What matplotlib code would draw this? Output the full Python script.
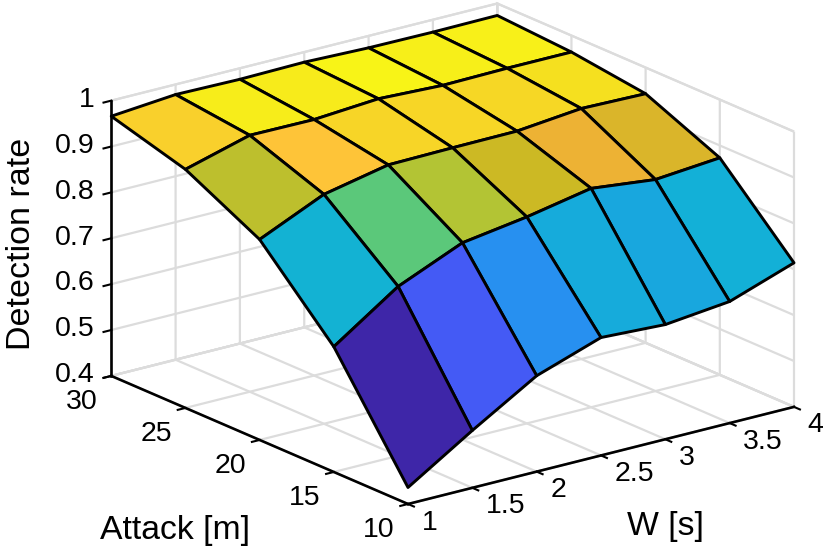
import numpy as np
import matplotlib
matplotlib.use('Agg')
import matplotlib.pyplot as plt
from matplotlib.colors import LinearSegmentedColormap
from mpl_toolkits.mplot3d import proj3d

plt.rcParams['font.family'] = ['Liberation Sans', 'DejaVu Sans']

w_values = [1, 1.5, 2, 2.5, 3, 3.5, 4]
attack_values = [10, 15, 20, 25, 30]
detection_10 = [0.436, 0.525, 0.609, 0.657, 0.650, 0.665, 0.714]
detection_15 = [0.673, 0.769, 0.829, 0.850, 0.877, 0.861, 0.873]
detection_20 = [0.837, 0.900, 0.929, 0.931, 0.932, 0.946, 0.943]
detection_25 = [0.920, 0.959, 0.958, 0.968, 0.962, 0.964, 0.964]
detection_30 = [0.966, 0.978, 0.976, 0.978, 0.974, 0.973, 0.974]
z_ticks = [0.4, 0.5, 0.6, 0.7, 0.8, 0.9, 1]
z_labels = ['0.4', '0.5', '0.6', '0.7', '0.8', '0.9', '1']
w_labels = ['1', '1.5', '2', '2.5', '3', '3.5', '4']
attack_labels = ['10', '15', '20', '25', '30']

# matlab parula, coarse
parula = LinearSegmentedColormap.from_list('parula', [
    (0.0, (0.2422, 0.1504, 0.6603)), (0.143, (0.2810, 0.3228, 0.9579)),
    (0.286, (0.1786, 0.5289, 0.9682)), (0.429, (0.0689, 0.6948, 0.8394)),
    (0.571, (0.2161, 0.7843, 0.5923)), (0.714, (0.6720, 0.7793, 0.2227)),
    (0.764, (0.80, 0.725, 0.14)), (0.81, (0.92, 0.69, 0.20)),
    (0.857, (0.9970, 0.7659, 0.2199)), (0.93, (0.96, 0.86, 0.13)),
    (1.0, (0.9769, 0.9839, 0.0805))])

W, A = np.meshgrid(w_values, attack_values)
Z = np.array([detection_10, detection_15, detection_20, detection_25, detection_30])
colors = parula((Z - Z.min()) / (Z.max() - Z.min()))

fig = plt.figure(figsize=(8.32, 5.48), dpi=100)
ax = fig.add_subplot(projection='3d', proj_type='ortho')
ax.view_init(elev=19.24, azim=-127.36)
ax.set_box_aspect((485.2, 488.6, 291.3))

ax.plot_surface(W, A, Z, facecolors=colors, rstride=1, cstride=1, shade=False,
                edgecolor='black', linewidth=2.1, antialiased=True)

ax.set_xlim(1, 4, view_margin=0)
ax.set_ylim(10, 30, view_margin=0)
ax.set_zlim(0.4, 1, view_margin=0)
ax.set_xticks(w_values)
ax.set_xticklabels(w_labels, ha='left', va='center')
ax.set_yticks(attack_values)
ax.set_yticklabels(attack_labels, ha='right', va='top')
ax.set_zticks(z_ticks)
ax.set_zticklabels(z_labels, ha='right', va='center')
ax.tick_params(labelsize=20.5, colors='black')
ax.tick_params(axis='x', pad=4.5)
ax.tick_params(axis='y', pad=1.3)
ax.tick_params(axis='z', pad=-1.5)

for axis in (ax.xaxis, ax.yaxis, ax.zaxis):
    axis.set_pane_color((1, 1, 1, 1))
    axis.pane.set_edgecolor('#dcdcdc')
    axis.pane.set_linewidth(1.6)
    axis.line.set_color('black')
    axis.line.set_linewidth(1.9)
    axis._axinfo['grid'].update(color='#dcdcdc', linewidth=1.6)
    # the edge sits on the near plane here, so "inward" points out of the box
    axis._axinfo['tick'].update(inward_factor=0.25, outward_factor=0.0)
    axis._axinfo['tick']['linewidth'] = {True: 1.5, False: 1.5}
ax.grid(True)


def to_px(x, y, z):
    px, py, _ = proj3d.proj_transform(x, y, z, ax.get_proj())
    return ax.transData.transform((px, py))


# fit the box onto the picture: front corner at (408, 504), W edge 386 px wide
for i in range(2):
    fig.canvas.draw()
    front = to_px(1, 10, 0.4)
    right = to_px(4, 10, 0.4)
    k = 386 / (right[0] - front[0])
    box = ax.get_position()
    size = box.width * 832 * k
    cx = box.x0 * 832 + box.width * 416
    cy = box.y0 * 548 + box.height * 274
    ax.set_position([(cx - size / 2) / 832, (cy - size / 2) / 548, size / 832, size / 548])
    fig.canvas.draw()
    front = to_px(1, 10, 0.4)
    box = ax.get_position()
    ax.set_position([box.x0 + (408 - front[0]) / 832, box.y0 + (548 - 504 - front[1]) / 548,
                     box.width, box.height])

fig.text(175 / 832, 1 - 530 / 548, 'Attack [m]', fontsize=24.3, ha='center', va='center')
fig.text(665 / 832, 1 - 527 / 548, 'W [s]', fontsize=24.3, ha='center', va='center')
fig.text(22 / 832, 1 - 244 / 548, 'Detection rate', fontsize=24.5, rotation=90, ha='center', va='center')

fig.savefig('out.png', dpi=100)
